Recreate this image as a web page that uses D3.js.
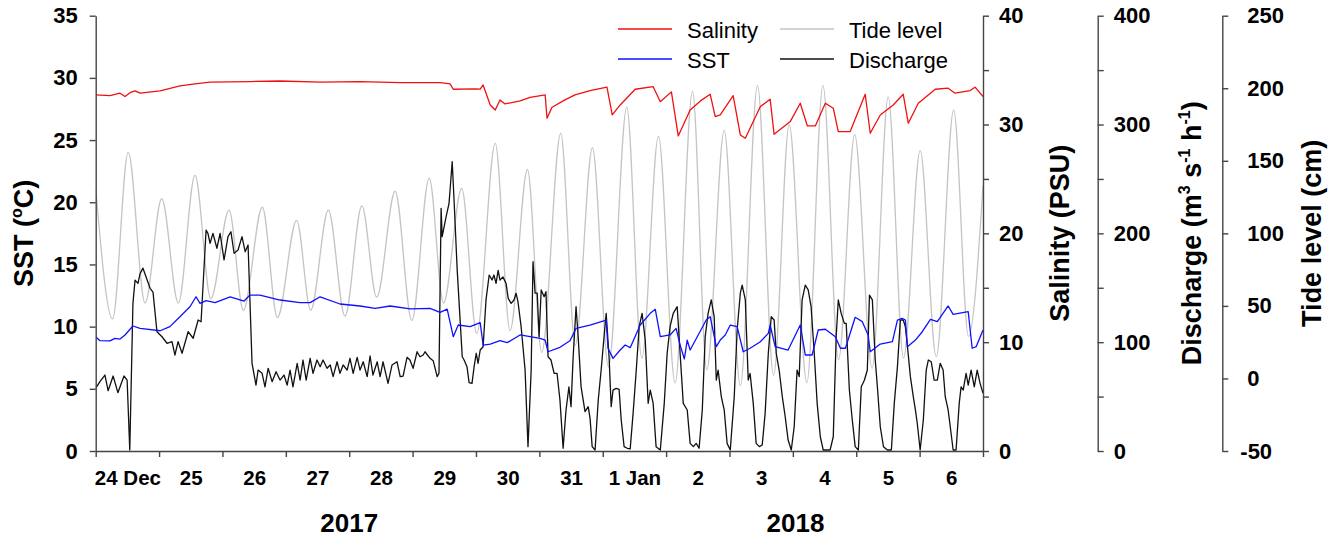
<!DOCTYPE html>
<html>
<head>
<meta charset="utf-8">
<script src="https://cdn.jsdelivr.net/npm/d3@7"></script>
<style>
body { margin: 0; background: #fff; }
svg { display: block; font-family: "Liberation Sans", Arial, sans-serif; }
.axis .domain, .axis .tick line { stroke: #444; stroke-width: 1.4; }
.axis .tick text { font-weight: bold; fill: #000; font-family: "Liberation Sans", Arial, sans-serif; }
.line { fill: none; stroke-width: 1.3; stroke-linejoin: round; }
</style>
</head>
<body>
<div id="chart"></div>
<script>
var width = 1341, height = 540;

// hours since 24 Dec 2017 00:00
var tideHours = [0, 6.4, 12.3, 18.7, 25.0, 31.3, 37.6, 43.6, 50.5, 55.9, 63.1, 68.8, 76.1, 81.4, 88.1, 94.4, 100.8, 106.4, 113.4, 119.7,
  126.3, 131.7, 138.6, 144.3, 151.3, 156.9, 163.5, 168.9, 176.1, 181.6, 188.1, 194.2, 201.1, 206.8, 213.1, 219.4, 226.0, 231.4, 238.0, 244.1,
  250.6, 256.7, 262.6, 269.3, 275.4, 281.3, 287.4, 294.0, 300.1, 305.9, 312.2, 318.3, 324.9, 330.5, 336];
var tideLevel = [131, 41, 156, 52, 124, 52, 140, 55, 116, 47, 118, 42, 109, 47, 116, 43, 119, 56, 129, 40,
  138, 52, 131, 31, 162, 33, 144, 18, 169, 23, 159, 8, 187, 14, 167, -3, 198, 6, 171, -5,
  202, 2, 175, -3, 202, 13, 168, 7, 194, 14, 157, 15, 185, 29, 133];

var sstHours = [0, 1.6, 5.4, 7.3, 9.2, 11.1, 14.1, 16.8, 24.4, 28.1, 31.9, 35.7, 38.0, 39.5, 41.8, 45.2, 50.9, 56.2, 58.4, 62.2,
  69.8, 77.4, 81.2, 85.0, 92.5, 100.1, 105.8, 111.5, 119.1, 126.6, 130.4, 133.1, 135.4, 137.3, 141.8, 145.6, 146.7, 149.4, 153.1, 155.8,
  160.7, 168.3, 170.2, 171.3, 175.8, 179.6, 181.9, 187.2, 193.3, 194.0, 195.9, 198.6, 200.5, 202.4, 206.2, 210.0, 211.9, 213.8, 217.5, 219.8,
  221.3, 222.9, 224.0, 225.1, 227.8, 231.2, 232.7, 235.0, 236.5, 238.4, 240.3, 242.9, 245.2, 247.8, 251.7, 254.7, 255.4, 257.3, 262.2, 266.8,
  268.7, 271.3, 273.6, 276.3, 280.1, 282.0, 283.9, 287.6, 290.3, 292.5, 293.3, 297.1, 301.7, 303.6, 305.4, 306.6, 307.4, 310.4, 313.0, 316.1,
  318.7, 322.8, 324.7, 330.4, 331.9, 333.4, 336];
var sstValues = [9.19, 8.87, 8.85, 9.06, 9.0, 9.33, 10.05, 9.86, 9.67, 10.0, 10.8, 11.6, 12.4, 11.87, 12.09, 11.93, 12.4, 12.06, 12.54, 12.54,
  12.14, 11.93, 11.93, 12.4, 11.82, 11.66, 11.47, 11.66, 11.42, 11.47, 11.15, 11.4, 9.19, 10.13, 10.0, 10.32, 8.52, 8.6, 8.87, 8.71,
  9.33, 9.06, 8.92, 7.98, 8.34, 8.87, 9.86, 10.13, 10.53, 8.26, 7.45, 8.12, 8.52, 8.31, 10.13, 11.07, 11.39, 9.19, 9.33, 9.86,
  8.52, 7.4, 8.92, 8.12, 9.19, 10.53, 10.8, 8.39, 8.92, 9.33, 10.13, 10.0, 7.98, 8.26, 8.79, 9.46, 10.13, 8.39, 8.12, 10.13,
  7.72, 7.72, 9.73, 9.79, 9.19, 8.26, 8.26, 10.75, 10.4, 9.33, 7.98, 8.6, 8.79, 10.53, 10.67, 10.53, 8.39, 8.92, 9.59, 10.59,
  10.4, 11.66, 10.99, 11.2, 8.26, 8.39, 9.73];

var salHours = [0, 5.4, 9.2, 11.1, 13.0, 14.9, 16.8, 24.4, 31.9, 37.6, 43.3, 58.4, 69.8, 85.0, 100.1, 115.3, 130.4, 134.2, 135.4, 143.7,
  145.6, 146.7, 149.4, 151.3, 153.1, 155.0, 160.7, 164.5, 170.2, 170.9, 172.8, 177.7, 181.5, 187.2, 193.6, 195.6, 198.6, 204.3, 211.1, 213.8,
  218.0, 220.6, 225.1, 229.0, 232.7, 234.6, 236.5, 241.4, 244.1, 246.0, 251.7, 255.4, 256.9, 263.0, 266.8, 269.5, 272.5, 276.3, 279.3, 281.2,
  285.7, 291.4, 293.3, 297.1, 302.0, 305.8, 307.7, 311.5, 317.9, 322.8, 325.4, 331.1, 333.0, 336];
var salValues = [32.72, 32.66, 32.88, 32.57, 32.93, 33.1, 32.88, 33.09, 33.55, 33.73, 33.89, 33.95, 34.0, 33.89, 33.95, 33.85, 33.85, 33.73, 33.24, 33.27,
  33.25, 33.64, 31.8, 31.34, 32.26, 31.89, 32.17, 32.5, 32.72, 30.58, 31.59, 32.26, 32.72, 33.12, 33.43, 30.88, 31.8, 33.24, 33.48, 32.1,
  33.0, 28.95, 31.34, 32.17, 32.78, 30.72, 30.88, 32.66, 29.04, 28.74, 31.65, 32.33, 29.1, 30.27, 31.96, 29.87, 29.87, 31.96, 31.5, 29.35,
  29.35, 32.78, 29.2, 30.88, 31.8, 32.78, 30.12, 31.96, 33.24, 33.34, 32.88, 33.12, 33.43, 32.57];

var disHours = [0, 1.6, 3.5, 4.7, 6.6, 8.4, 10.7, 11.9, 12.9, 14.1, 14.9, 16.0, 16.8, 17.9, 20.6, 21.7, 23.2, 25.1, 27.0, 28.9,
  30.0, 31.2, 32.7, 35.0, 36.9, 38.8, 39.9, 41.8, 42.5, 43.3, 44.4, 45.9, 47.1, 48.6, 50.1, 51.2, 52.4, 53.9, 55.4, 56.6,
  57.7, 59.2, 60.7, 61.5, 63.0, 64.1, 65.3, 66.8, 68.3, 69.8, 71.3, 72.5, 73.6, 74.7, 76.3, 77.4, 78.5, 79.7, 81.2, 82.3,
  83.8, 85.0, 86.1, 87.6, 88.8, 89.9, 91.4, 92.5, 93.7, 95.2, 96.3, 97.5, 99.0, 100.1, 101.3, 102.8, 103.9, 105.0, 106.6, 107.7,
  108.8, 110.7, 112.2, 114.1, 115.3, 116.4, 117.9, 119.0, 120.2, 121.7, 122.8, 124.0, 124.7, 126.6, 127.8, 129.3, 130.0, 130.8, 131.2, 132.7,
  133.8, 135.0, 135.7, 136.9, 138.8, 139.5, 140.6, 141.4, 142.5, 143.3, 144.1, 144.8, 145.6, 146.7, 147.8, 149.0, 150.1, 150.8, 151.6, 152.4,
  153.1, 154.2, 155.4, 156.2, 157.3, 158.4, 159.2, 159.9, 161.1, 162.6, 163.7, 164.9, 165.6, 166.4, 167.2, 167.9, 168.7, 169.8, 170.5, 171.3,
  172.4, 173.6, 174.7, 175.8, 177.0, 178.1, 179.2, 180.0, 180.8, 181.9, 182.7, 183.8, 185.3, 186.5, 187.2, 188.0, 189.1, 190.3, 191.4, 192.5,
  193.3, 194.4, 195.2, 195.9, 197.1, 198.2, 199.0, 200.1, 201.3, 202.4, 203.5, 204.7, 205.8, 206.9, 208.1, 209.2, 210.0, 211.1, 212.2, 213.8,
  215.3, 216.4, 217.5, 218.7, 220.2, 221.3, 222.5, 224.0, 225.1, 226.3, 227.4, 228.5, 229.7, 230.8, 231.9, 233.1, 234.2, 235.0, 235.7, 236.9,
  238.0, 239.1, 240.3, 241.8, 242.9, 244.1, 244.8, 246.0, 247.1, 247.8, 249.0, 250.1, 251.3, 252.4, 253.5, 254.7, 255.8, 256.9, 257.7, 258.8,
  260.0, 261.1, 262.2, 263.4, 264.5, 265.6, 266.4, 267.5, 268.7, 269.8, 270.9, 272.1, 273.2, 274.4, 275.5, 278.1, 279.3, 280.4, 281.2, 282.3,
  283.5, 284.2, 285.4, 286.5, 287.6, 288.8, 289.9, 291.1, 292.2, 293.0, 294.1, 295.2, 296.0, 297.1, 298.3, 299.8, 301.3, 302.4, 303.6, 304.7,
  305.8, 306.6, 307.4, 308.5, 309.6, 310.4, 311.1, 312.2, 313.4, 314.5, 315.3, 316.4, 317.5, 318.7, 319.8, 320.9, 321.7, 322.8, 323.6, 324.7,
  325.8, 327.0, 327.7, 328.5, 329.6, 330.4, 331.5, 332.7, 333.8, 334.9, 336];
var disValues = [57.6, 63.7, 69.8, 55.4, 68.9, 53.6, 68.9, 65.2, 0.9, 135.7, 157, 154, 163, 168, 149.5, 146, 109.6, 105, 99, 100.5,
  88.2, 100.5, 89.8, 109.6, 103.6, 120.4, 118.8, 203, 200, 190.9, 200, 186.3, 200, 175.5, 197, 201.5, 181.7, 184.7, 197, 183.1,
  189.3, 80.6, 60.6, 74.4, 71.4, 59, 76, 63.7, 72.9, 65.2, 69.8, 60.6, 74.4, 59, 80.6, 65.2, 83.6, 65.2, 85.2, 71.4,
  83.6, 77.5, 83.6, 76, 79, 68.3, 82, 71.4, 79, 74.4, 85.2, 71.4, 86.1, 74.4, 82, 68.3, 87.3, 69.8, 82, 68.3,
  82, 62.2, 79, 82, 68.3, 68.9, 86.1, 83.6, 76, 91.2, 86.6, 88.2, 91.2, 85.2, 83, 68.3, 71.4, 223, 197, 215.3,
  227.6, 265.8, 230.6, 166, 86.6, 83.6, 77.5, 62.8, 62.2, 77.5, 89.8, 80.6, 92.8, 95.8, 138.8, 161.7, 157.1, 161.7, 154, 166,
  157, 160, 154, 140.3, 135.7, 138.8, 144.9, 137.2, 114.2, 74.4, 4, 74.4, 174, 145, 145, 105, 148, 141.8, 146.4, 86.6,
  83.6, 71.4, 71.4, 46.9, 2.5, 37.7, 59, 40.7, 86.6, 132.6, 105, 59, 36.1, 40.7, 30, 4, 0.9, 46.9, 74.4, 105,
  126.5, 86.6, 40.7, 56, 57.6, 56.7, 28.5, 4, 2.5, 2, 34.6, 74.4, 114.2, 126.5, 102, 43.8, 56, 43.8, 4, 0.9,
  43.8, 89.8, 114.2, 126.5, 132.6, 89.8, 43.8, 37.7, 7, 4, 7, 2.5, 37.7, 105, 126.5, 138.8, 123.4, 65.2, 74.4, 49.9,
  37.7, 7, 0.9, 49.9, 111.2, 145, 152.5, 138.8, 65.2, 71.4, 43.8, 7, 4, 5.5, 34.6, 89.8, 123.4, 120.4, 89.8, 74.4,
  49.9, 31.5, 10.1, 0.9, 22.3, 74.4, 68.3, 138.8, 152.5, 148, 132.6, 89.8, 43.8, 13.1, 0.9, 0.9, 13.1, 105, 138.8, 126.5,
  117.3, 117.3, 56, 28.5, 4, 0.9, 59, 65.2, 74.4, 143.3, 138.8, 83.6, 59, 22.3, 4, 0.9, 0.9, 43.8, 77.5, 120.4,
  120.4, 114.2, 95.8, 68.3, 49.9, 37.7, 25.5, 0.9, 28.5, 74.4, 83.6, 82, 65.2, 65.2, 80.6, 74.4, 49.9, 37.7, 22.3, 0.9,
  0.9, 43.8, 59, 56, 71.4, 60.6, 74.4, 59, 74.4, 62.2, 53];

var sstTicks = [0, 5, 10, 15, 20, 25, 30, 35];
var salTicks = [0, 5, 10, 15, 20, 25, 30, 35, 40];
var disTicks = [0, 50, 100, 150, 200, 250, 300, 350, 400];
var tideTicks = [-50, 0, 50, 100, 150, 200, 250];

var start = new Date(2017, 11, 24), end = new Date(2018, 0, 7);
var plotL = 95.7, plotR = 983, plotT = 15.7, plotB = 451;

var x = d3.scaleTime().domain([start, end]).range([plotL, plotR]);
var ySST = d3.scaleLinear().domain([0, 35]).range([plotB, plotT]);
var ySal = d3.scaleLinear().domain([0, 40]).range([plotB, plotT]);
var yDis = d3.scaleLinear().domain([0, 400]).range([plotB, plotT]);
var yTide = d3.scaleLinear().domain([-50, 250]).range([plotB, plotT]);

function at(h) { return d3.timeMinute.offset(start, Math.round(h * 60)); }
function pts(hours, vals) { return hours.map(function(h, i) { return {t: at(h), v: vals[i]}; }); }

var svg = d3.select("#chart").append("svg").attr("width", width).attr("height", height);

svg.append("clipPath").attr("id", "plot").append("rect")
  .attr("x", plotL).attr("y", plotT - 2).attr("width", plotR - plotL).attr("height", plotB - plotT + 3);

var plot = svg.append("g").attr("clip-path", "url(#plot)");

function drawLine(data, yScale, color, curve) {
  var line = d3.line().x(function(d) { return x(d.t); }).y(function(d) { return yScale(d.v); });
  if (curve) line.curve(curve);
  plot.append("path").datum(data).attr("class", "line").attr("stroke", color).attr("d", line);
}
drawLine(pts(tideHours, tideLevel), yTide, "#c4c4c4", d3.curveMonotoneX);
drawLine(pts(disHours, disValues), yDis, "#111");
drawLine(pts(sstHours, sstValues), ySST, "#1010ff");
drawLine(pts(salHours, salValues), ySal, "#f01010");

// x axis: day ticks, labels at noon
var xt = svg.append("g").attr("class", "axis").attr("transform", "translate(0," + plotB + ")")
  .call(d3.axisBottom(x).ticks(d3.timeDay.every(1)).tickSize(6).tickSizeOuter(0).tickFormat(""));
xt.selectAll(".tick text").remove();
var noon = d3.timeDay.range(start, end).map(function(d) { return d3.timeHour.offset(d, 12); });
var xl = svg.append("g").attr("class", "axis").attr("transform", "translate(0," + plotB + ")")
  .call(d3.axisBottom(x).tickValues(noon).tickSize(0).tickPadding(19).tickFormat(function(d) {
    if (d.getDate() === 24) return "24 Dec";
    if (d.getDate() === 1) return "1 Jan";
    return d.getDate();
  }));
xl.select(".domain").remove();
xl.selectAll("text").style("font-size", "20.5px");

// y axes
var gl = svg.append("g").attr("class", "axis").attr("transform", "translate(" + plotL + ",0)")
  .call(d3.axisLeft(ySST).tickValues(sstTicks).tickSize(6).tickPadding(12).tickSizeOuter(0));
gl.selectAll("text").style("font-size", "22px");

var gs = svg.append("g").attr("class", "axis").attr("transform", "translate(" + plotR + ",0)")
  .call(d3.axisRight(ySal).tickValues(salTicks).tickSize(6).tickPadding(10).tickSizeOuter(0)
    .tickFormat(function(d) { return d % 10 === 0 ? d : ""; }));
gs.selectAll("text").style("font-size", "22px");

var gd = svg.append("g").attr("class", "axis").attr("transform", "translate(1097.7,0)")
  .call(d3.axisRight(yDis).tickValues(disTicks).tickSize(6).tickPadding(10).tickSizeOuter(0)
    .tickFormat(function(d) { return d % 100 === 0 ? d : ""; }));
gd.selectAll("text").style("font-size", "22px");

var gt = svg.append("g").attr("class", "axis").attr("transform", "translate(1222.3,0)")
  .call(d3.axisRight(yTide).tickValues(tideTicks).tickSize(6).tickPadding(19).tickSizeOuter(0)
    .tickFormat(function(d) { return String(d); }));
gt.selectAll("text").style("font-size", "22px").attr("dx", function(d) { return d < 0 ? -7 : 0; });

// drop the empty labels of minor ticks
svg.selectAll(".tick text").filter(function() { return this.textContent === ""; }).remove();

// axis titles, raised parts as small tspans
function title(xPos, parts) {
  var t = svg.append("text").attr("transform", "translate(" + xPos + "," + ((plotT + plotB) / 2) + ") rotate(-90)")
    .attr("text-anchor", "middle").style("font-size", "27px").style("font-weight", "bold");
  var back = 0;
  parts.forEach(function(p) {
    if (typeof p === "object") {
      t.append("tspan").attr("dy", -11).style("font-size", "16px").text(p.raised);
      back = 11;
    } else {
      t.append("tspan").attr("dy", back).text(p);
      back = 0;
    }
  });
}
title(33, ["SST (", {raised: "o"}, "C)"]);
title(1069, ["Salinity (PSU)"]);
title(1201, ["Discharge (m", {raised: "3"}, " s", {raised: "-1"}, " h", {raised: "-1"}, ")"]);
title(1321, ["Tide level (cm)"]);

// year labels
svg.append("text").attr("x", x(new Date(2017, 11, 28))).attr("y", 532).attr("text-anchor", "middle")
  .style("font-size", "26px").style("font-weight", "bold").text("2017");
svg.append("text").attr("x", x(new Date(2018, 0, 4, 1))).attr("y", 532).attr("text-anchor", "middle")
  .style("font-size", "26px").style("font-weight", "bold").text("2018");

// legend
var legendNames = ["Salinity", "SST", "Tide level", "Discharge"];
var legendColors = ["#f01010", "#1010ff", "#c4c4c4", "#111"];
var legend = svg.append("g");
legendNames.forEach(function(name, i) {
  var lx = i < 2 ? 618 : 780, ly = i % 2 === 0 ? 29 : 59;
  legend.append("line").attr("x1", lx).attr("x2", lx + 54).attr("y1", ly).attr("y2", ly)
    .attr("stroke", legendColors[i]).attr("stroke-width", 1.4);
  legend.append("text").attr("x", lx + 69).attr("y", ly + 8.5).style("font-size", "22px").text(name);
});
</script>
</body>
</html>
